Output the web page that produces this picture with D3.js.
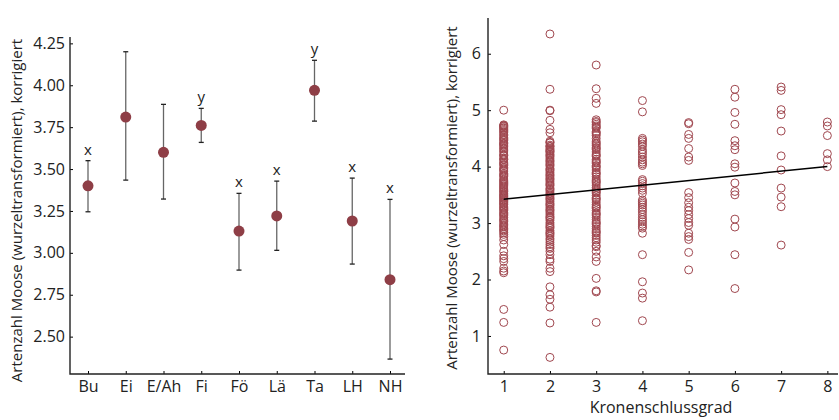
<!DOCTYPE html>
<html>
<head>
<meta charset="utf-8">
<script src="https://cdn.jsdelivr.net/npm/d3@7"></script>
<style>
  body { margin: 0; background: #fff; }
  svg text { font-family: "Open Sans", sans-serif; fill: #222; }
</style>
</head>
<body>
<div id="chart"></div>
<script>
// left panel: corrected means per forest type with error bars
const groups = ["Bu", "Ei", "E/Ah", "Fi", "Fö", "Lä", "Ta", "LH", "NH"];
const means = [3.40, 3.81, 3.60, 3.76, 3.13, 3.22, 3.97, 3.19, 2.84];
const upper = [3.55, 4.20, 3.886, 3.862, 3.355, 3.428, 4.149, 3.446, 3.319];
const lower = [3.245, 3.434, 3.321, 3.659, 2.897, 3.015, 3.786, 2.933, 2.366];
const letters = ["x", "", "", "y", "x", "x", "y", "x", "x"];
const leftTicks = [2.50, 2.75, 3.00, 3.25, 3.50, 3.75, 4.00, 4.25];

// right panel: values per Kronenschlussgrad class
const grad1 = [5.00, 4.74, 4.73, 4.72, 4.71, 4.69, 4.68, 4.66, 4.64, 4.62, 4.60, 4.57, 4.55, 4.52, 4.50, 4.48, 4.46, 4.43, 4.41, 4.40, 4.38, 4.36, 4.33, 4.31, 4.28, 4.26, 4.22, 4.20, 4.19, 4.15, 4.13, 4.12, 4.08, 4.06, 4.04, 4.02, 3.98, 3.96, 3.94, 3.92, 3.88, 3.86, 3.84, 3.82, 3.78, 3.76, 3.74, 3.72, 3.70, 3.68, 3.66, 3.64, 3.62, 3.60, 3.58, 3.56, 3.55, 3.52, 3.50, 3.49, 3.47, 3.45, 3.44, 3.41, 3.40, 3.38, 3.36, 3.34, 3.33, 3.30, 3.28, 3.26, 3.24, 3.22, 3.19, 3.17, 3.15, 3.13, 3.10, 3.07, 3.05, 3.03, 3.00, 2.97, 2.95, 2.93, 2.90, 2.88, 2.86, 2.83, 2.80, 2.76, 2.70, 2.62, 2.50, 2.42, 2.37, 2.32, 2.20, 2.15, 2.12, 1.47, 1.24, 0.75];
const grad2 = [6.35, 5.37, 5.00, 4.99, 4.82, 4.66, 4.60, 4.45, 4.43, 4.42, 4.38, 4.36, 4.35, 4.32, 4.30, 4.28, 4.27, 4.25, 4.22, 4.20, 4.18, 4.15, 4.12, 4.10, 4.08, 4.05, 4.03, 4.01, 3.97, 3.95, 3.93, 3.90, 3.87, 3.85, 3.83, 3.80, 3.78, 3.76, 3.73, 3.70, 3.68, 3.66, 3.62, 3.60, 3.58, 3.55, 3.52, 3.50, 3.48, 3.45, 3.43, 3.41, 3.38, 3.35, 3.33, 3.31, 3.28, 3.25, 3.23, 3.21, 3.18, 3.15, 3.12, 3.10, 3.08, 3.05, 3.01, 2.98, 2.95, 2.93, 2.91, 2.87, 2.84, 2.82, 2.80, 2.77, 2.73, 2.70, 2.66, 2.62, 2.58, 2.55, 2.50, 2.44, 2.36, 2.32, 2.20, 2.14, 1.87, 1.73, 1.65, 1.51, 1.23, 0.62];
const grad3 = [5.80, 5.38, 5.21, 5.12, 4.83, 4.80, 4.78, 4.75, 4.72, 4.70, 4.68, 4.62, 4.60, 4.58, 4.55, 4.50, 4.45, 4.42, 4.40, 4.37, 4.34, 4.32, 4.30, 4.26, 4.22, 4.20, 4.18, 4.13, 4.10, 4.08, 4.06, 4.02, 4.00, 3.98, 3.94, 3.90, 3.88, 3.86, 3.82, 3.78, 3.75, 3.73, 3.71, 3.67, 3.63, 3.60, 3.57, 3.55, 3.53, 3.49, 3.45, 3.43, 3.41, 3.37, 3.33, 3.30, 3.28, 3.26, 3.22, 3.18, 3.16, 3.14, 3.10, 3.06, 3.02, 3.00, 2.98, 2.94, 2.90, 2.86, 2.84, 2.82, 2.78, 2.74, 2.70, 2.66, 2.60, 2.58, 2.50, 2.40, 2.32, 2.02, 1.80, 1.78, 1.24];
const grad4 = [5.17, 4.97, 4.50, 4.47, 4.44, 4.40, 4.36, 4.30, 4.26, 4.22, 4.17, 4.12, 4.08, 4.05, 4.02, 3.77, 3.74, 3.70, 3.66, 3.62, 3.58, 3.53, 3.41, 3.38, 3.35, 3.32, 3.28, 3.24, 3.20, 3.15, 3.10, 3.06, 3.02, 2.98, 2.94, 2.91, 2.82, 2.44, 1.96, 1.76, 1.67, 1.27];
const grad5 = [4.78, 4.76, 4.57, 4.50, 4.32, 4.17, 4.11, 3.54, 3.45, 3.36, 3.28, 3.22, 3.15, 3.08, 3.01, 2.96, 2.82, 2.76, 2.71, 2.48, 2.17];
const grad6 = [5.37, 5.23, 4.96, 4.75, 4.46, 4.37, 4.30, 4.05, 3.99, 3.71, 3.56, 3.50, 3.07, 2.93, 2.44, 1.84];
const grad7 = [5.41, 5.35, 5.01, 4.92, 4.63, 4.19, 3.94, 3.62, 3.46, 3.29, 2.61];
const grad8 = [4.79, 4.72, 4.55, 4.23, 4.12, 4.00];
const gradCols = [grad1, grad2, grad3, grad4, grad5, grad6, grad7, grad8];
const fitLine = [[1, 3.424], [8, 4.002]];
const rightTicksY = [1, 2, 3, 4, 5, 6];
const rightTicksX = [1, 2, 3, 4, 5, 6, 7, 8];

const yTitle = "Artenzahl Moose (wurzeltransformiert), korrigiert";

const width = 839, height = 420;
const fontSize = 15;
const dotColor = "#8e3e46";
const ringColor = "#a0474f";

let svg = d3.select("#chart").append("svg")
    .attr("width", width)
    .attr("height", height);

// ---------- left panel ----------
const L = {left: 70, right: 405, top: 37, bottom: 374};
let xL = d3.scalePoint().domain(groups).range([88, 390]);
let yL = d3.scaleLinear().domain([2.277, 4.288]).range([L.bottom, L.top]);

let left = svg.append("g");
left.append("g")
    .attr("transform", `translate(0,${L.bottom})`)
    .call(d3.axisBottom(xL).tickSize(-3).tickPadding(7))
    .call(g => g.select(".domain").remove())
    .call(g => g.selectAll("text").style("font-size", fontSize + 1 + "px"));
left.append("g")
    .attr("transform", `translate(${L.left},0)`)
    .call(d3.axisLeft(yL).tickValues(leftTicks).tickFormat(d3.format(".2f")).tickSize(-3).tickPadding(5))
    .call(g => g.select(".domain").remove())
    .call(g => g.selectAll("text").style("font-size", fontSize + 1 + "px"));
left.append("path")
    .attr("d", `M${L.left},${L.top}V${L.bottom}H${L.right}`)
    .attr("fill", "none").attr("stroke", "#222").attr("stroke-width", 1.4);
left.append("text")
    .text(yTitle)
    .attr("transform", `translate(22,${(L.top + L.bottom) / 2 + 5}) rotate(-90)`)
    .attr("text-anchor", "middle")
    .style("font-size", fontSize + "px");

let rows = groups.map((g, i) => ({g: g, m: means[i], hi: upper[i], lo: lower[i], lab: letters[i]}));
let bars = left.append("g").selectAll("g").data(rows).enter().append("g");
bars.append("line")
    .attr("x1", d => xL(d.g)).attr("x2", d => xL(d.g))
    .attr("y1", d => yL(d.hi)).attr("y2", d => yL(d.lo))
    .attr("stroke", "#666").attr("stroke-width", 1.3);
bars.selectAll(".cap").data(d => [[d.g, d.hi], [d.g, d.lo]]).enter().append("line")
    .attr("x1", d => xL(d[0]) - 2.5).attr("x2", d => xL(d[0]) + 2.5)
    .attr("y1", d => yL(d[1])).attr("y2", d => yL(d[1]))
    .attr("stroke", "#222").attr("stroke-width", 1.3);
bars.append("circle")
    .attr("cx", d => xL(d.g)).attr("cy", d => yL(d.m))
    .attr("r", 5.5).attr("fill", dotColor);
bars.append("text")
    .text(d => d.lab)
    .attr("x", d => xL(d.g)).attr("y", d => yL(d.hi) - 6)
    .attr("text-anchor", "middle")
    .style("font-size", fontSize + "px");

// ---------- right panel ----------
const R = {left: 488, right: 838, top: 18, bottom: 374};
let xR = d3.scaleLinear().domain([0.66, 8.23]).range([R.left, R.right]);
let yR = d3.scaleLinear().domain([0.326, 6.633]).range([R.bottom, R.top]);

let right = svg.append("g");
right.append("g")
    .attr("transform", `translate(0,${R.bottom})`)
    .call(d3.axisBottom(xR).tickValues(rightTicksX).tickFormat(d3.format("d")).tickSize(-3).tickPadding(7))
    .call(g => g.select(".domain").remove())
    .call(g => g.selectAll("text").style("font-size", fontSize + 1 + "px"));
right.append("g")
    .attr("transform", `translate(${R.left},0)`)
    .call(d3.axisLeft(yR).tickValues(rightTicksY).tickFormat(d3.format("d")).tickSize(-3).tickPadding(7))
    .call(g => g.select(".domain").remove())
    .call(g => g.selectAll("text").style("font-size", fontSize + 1 + "px"));
right.append("path")
    .attr("d", `M${R.left},${R.top}V${R.bottom}H${R.right}`)
    .attr("fill", "none").attr("stroke", "#222").attr("stroke-width", 1.4);
right.append("text")
    .text(yTitle)
    .attr("transform", `translate(457,${(R.top + R.bottom) / 2 + 2}) rotate(-90)`)
    .attr("text-anchor", "middle")
    .style("font-size", fontSize + "px");
right.append("text")
    .text("Kronenschlussgrad")
    .attr("x", 661).attr("y", 413)
    .attr("text-anchor", "middle")
    .style("font-size", fontSize + 1 + "px");

let pts = [];
gradCols.forEach((col, i) => col.forEach(v => pts.push({x: i + 1, y: v})));
right.append("g").selectAll("circle").data(pts).enter().append("circle")
    .attr("cx", d => xR(d.x)).attr("cy", d => yR(d.y))
    .attr("r", 4)
    .attr("fill", "none")
    .attr("stroke", ringColor)
    .attr("stroke-width", 1);
right.append("path")
    .datum(fitLine)
    .attr("d", d3.line().x(d => xR(d[0])).y(d => yR(d[1])))
    .attr("stroke", "#000").attr("stroke-width", 1.5).attr("fill", "none");
</script>
</body>
</html>
